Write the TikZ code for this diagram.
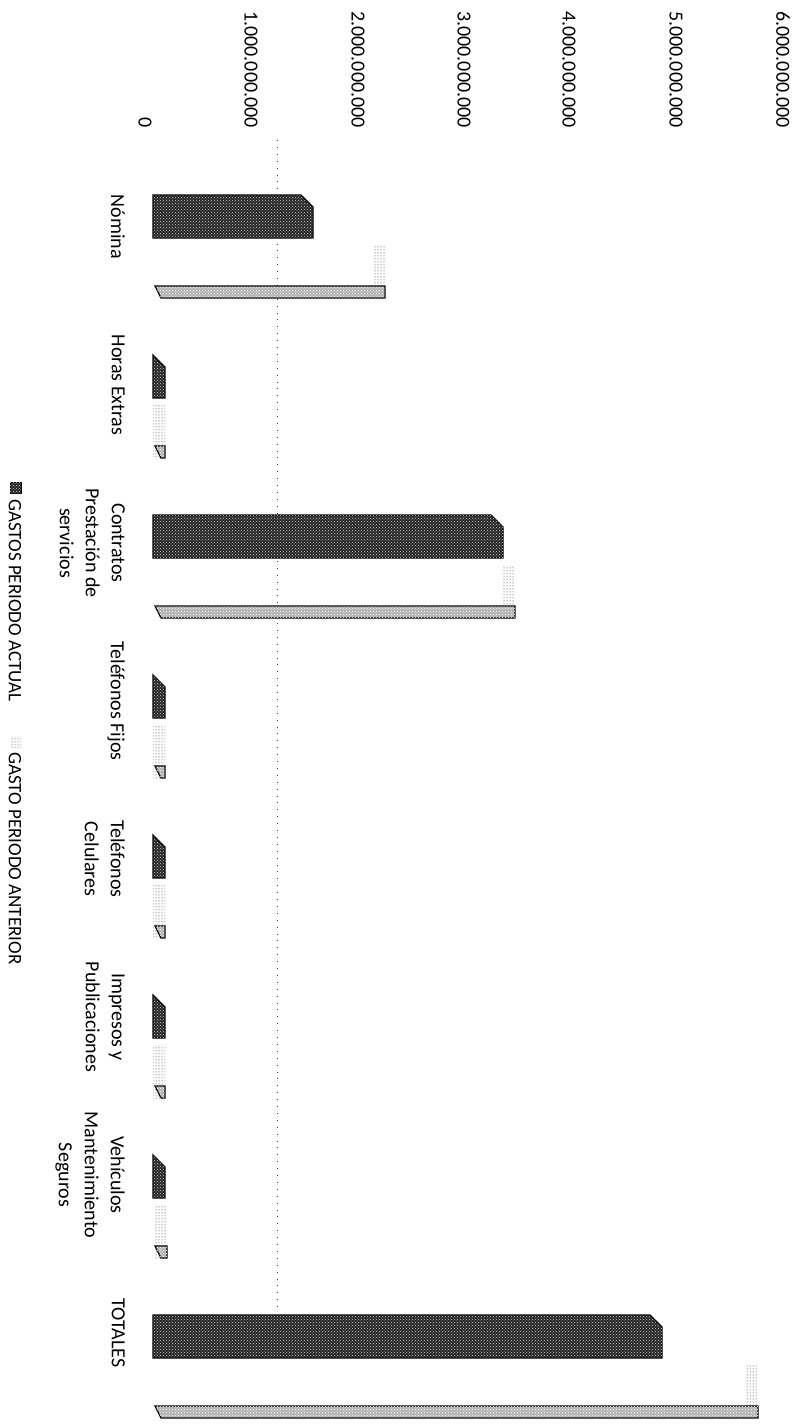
\documentclass[tikz,border=0pt]{standalone}
\usepackage{fontspec}
\setmainfont{Carlito}
\usetikzlibrary{patterns}
\newcommand{\darkbar}[2]{% #1 centre of group, #2 end of bar
  \draw[darkface] (153,#1-51) -- (#2-12,#1-51) -- (#2,#1-39) -- (#2,#1-8) -- (153,#1-8) -- cycle ;}
\newcommand{\lightbar}[2]{%
  \fill[lightside] (#2-12,#1-1) rectangle (#2,#1+52) ;
  \draw[lightface] (155,#1+40) -- (#2,#1+40) -- (#2,#1+52) -- (161,#1+52) -- cycle ;}

\begin{document}
\begin{tikzpicture}[x=1pt,y=-1pt,
  darkface/.style={fill=black!85,postaction={pattern=crosshatch dots,pattern color=white!80!black},draw=black,line width=1.2pt},
  lightface/.style={fill=gray!60,postaction={pattern=crosshatch dots,pattern color=white},draw=black,line width=1.2pt},
  lightside/.style={pattern=dots,pattern color=black!85},
  grid/.style={draw=black!75,line width=0.9pt,dash pattern=on 0.9pt off 6pt},
  vallabel/.style={rotate=-90,anchor=east,inner sep=0pt,font=\fontsize{20}{24}\selectfont},
  catlabel/.style={rotate=-90,anchor=north,align=center,inner sep=0pt,font=\fontsize{20}{26}\selectfont},
  legtext/.style={rotate=-90,anchor=west,inner sep=0pt,font=\fontsize{19}{23}\selectfont}]
  \useasboundingbox (0,0) rectangle (793,1426);

  \draw[grid] (277,140) -- (277,1310) ;  %gridline behind the bars

  % value axis
  \node[vallabel] (v0) at (145,128) {0};
  \node[vallabel] (v1) at (251,128) {1.000.000.000};
  \node[vallabel] (v2) at (358,128) {2.000.000.000};
  \node[vallabel] (v3) at (464,128) {3.000.000.000};
  \node[vallabel] (v4) at (569,128) {4.000.000.000};
  \node[vallabel] (v5) at (676,128) {5.000.000.000};
  \node[vallabel] (v6) at (783,128) {6.000.000.000};

  % bars: actual period (dark) and previous period (light)
  \darkbar{246}{313}  \lightbar{246}{385}   %Nomina
  \darkbar{406}{165}  \lightbar{406}{165}   %Horas extras
  \darkbar{566}{503}  \lightbar{566}{515}   %Contratos
  \darkbar{726}{165}  \lightbar{726}{165}   %Telefonos fijos
  \darkbar{886}{165}  \lightbar{886}{165}   %Celulares
  \darkbar{1046}{165} \lightbar{1046}{165}  %Impresos
  \darkbar{1206}{165} \lightbar{1206}{167}  %Vehiculos
  \darkbar{1366}{662} \lightbar{1366}{758}  %Totales

  % categories
  \node[catlabel] (nomina)    at (125,227)  {Nómina};
  \node[catlabel] (horas)     at (125,385)  {Horas Extras};
  \node[catlabel] (contratos) at (125,543)  {Contratos\\Prestación de\\servicios};
  \node[catlabel] (fijos)     at (125,701)  {Teléfonos Fijos};
  \node[catlabel] (celulares) at (125,859)  {Teléfonos\\Celulares};
  \node[catlabel] (impresos)  at (125,1017) {Impresos y\\Publicaciones};
  \node[catlabel] (vehiculos) at (125,1175) {Vehículos\\Mantenimiento\\Seguros};
  \node[catlabel] (totales)   at (125,1333) {TOTALES};

  % legend
  \draw[darkface,line width=0.8pt] (10,482) rectangle (21,493) ;
  \node[legtext] (legactual) at (15,499) {GASTOS PERIODO ACTUAL};
  \fill[lightside] (10,736) rectangle (21,747) ;
  \node[legtext] (leganterior) at (15,752) {GASTO PERIODO ANTERIOR};
\end{tikzpicture}
\end{document}
